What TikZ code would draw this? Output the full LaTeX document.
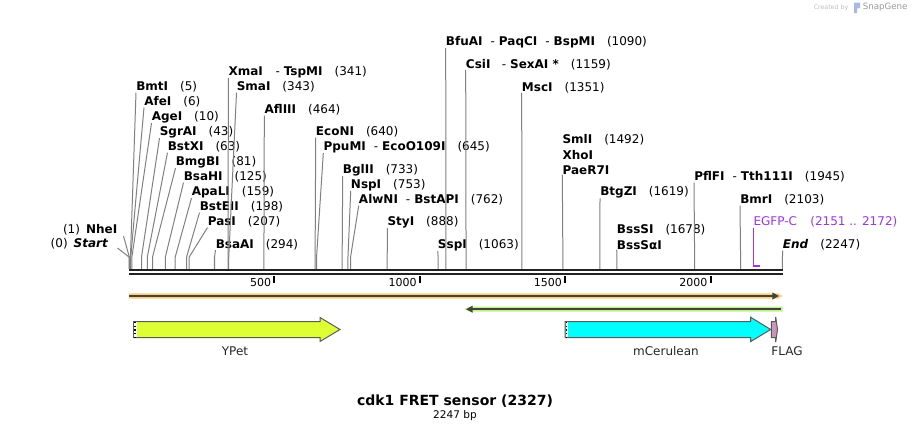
\documentclass[tikz,border=0pt]{standalone}
\usepackage{fontspec}
\setmainfont{DejaVu Sans}
\usetikzlibrary{arrows.meta}
\definecolor{cutgray}{RGB}{128,128,128}
\definecolor{bardark}{RGB}{34,34,34}
\definecolor{primerorange}{RGB}{252,204,124}
\definecolor{primergreen}{RGB}{190,242,140}
\definecolor{primerline}{RGB}{66,66,56}
\definecolor{ypetfill}{RGB}{222,255,51}
\definecolor{cerfill}{RGB}{0,255,255}
\definecolor{flagfill}{RGB}{200,150,185}
\definecolor{egfppurple}{RGB}{160,50,235}
\definecolor{featedge}{RGB}{90,90,90}
\newcommand{\bpos}[1]{\hspace{9pt}{\mdseries(#1)}}
\newcommand{\dsh}{\hspace{6pt}{\mdseries-}\hspace{3pt}}

\begin{document}
\begin{tikzpicture}[x=0.75pt,y=-0.75pt,
  enz/.style={anchor=west,inner sep=0pt,font=\fontsize{9}{11}\selectfont\bfseries},
  cut/.style={cutgray,line width=0.75pt},
  feat/.style={draw=featedge,line width=0.75pt},
  featlbl/.style={inner sep=0pt,text=black!85,font=\fontsize{9}{11}\selectfont},
  scalelbl/.style={anchor=east,inner sep=0pt,font=\fontsize{8.25}{10}\selectfont}]
\useasboundingbox (0,0) rectangle (912,432);

% restriction sites, left to right
\node[enz,anchor=east] (startlbl) at (108.5,244) {{\mdseries(0)}\hspace{4.5pt}\textit{Start}};
\node[enz,anchor=east] (nhei) at (117.5,230) {{\mdseries(1)}\hspace{4.5pt}NheI};
\node[enz] (bmti) at (136,87) {BmtI\bpos{5}};
\node[enz] (afei) at (144,102) {AfeI\bpos{6}};
\node[enz] (agei) at (151.5,117) {AgeI\bpos{10}};
\node[enz] (sgrai) at (159.5,132) {SgrAI\bpos{43}};
\node[enz] (bstxi) at (167.5,147) {BstXI\bpos{63}};
\node[enz] (bmgbi) at (175.5,162) {BmgBI\bpos{81}};
\node[enz] (bsahi) at (183.5,177) {BsaHI\bpos{125}};
\node[enz] (apali) at (191.5,192) {ApaLI\bpos{159}};
\node[enz] (bsteii) at (199.5,207) {BstEII\bpos{198}};
\node[enz] (pasi) at (207.5,222) {PasI\bpos{207}};
\node[enz] (bsaai) at (215.5,244.5) {BsaAI\bpos{294}};
\node[enz] (xmai) at (228.3,72) {XmaI\hspace{3.5pt}\dsh TspMI\bpos{341}};
\node[enz] (smai) at (236.5,87) {SmaI\bpos{343}};
\node[enz] (afliii) at (264.3,110) {AflIII\bpos{464}};
\node[enz] (econi) at (315.7,132) {EcoNI\bpos{640}};
\node[enz] (ppumi) at (323.3,147) {PpuMI\dsh EcoO109I\bpos{645}};
\node[enz] (bglii) at (342.7,170) {BglII\bpos{733}};
\node[enz] (nspi) at (350.7,185) {NspI\bpos{753}};
\node[enz] (alwni) at (358.7,200) {AlwNI\dsh BstAPI\bpos{762}};
\node[enz] (styi) at (387.3,222) {StyI\bpos{888}};
\node[enz] (sspi) at (437.7,245) {SspI\bpos{1063}};
\node[enz] (bfuai) at (445.7,42) {BfuAI\dsh PaqCI\dsh BspMI\bpos{1090}};
\node[enz] (csii) at (465.7,64.5) {CsiI\hspace{2.5pt}\dsh SexAI *\bpos{1159}};
\node[enz] (msci) at (521.7,87.3) {MscI\bpos{1351}};
\node[enz] (smli) at (562.3,140) {SmlI\bpos{1492}};
\node[enz] (xhoi) at (562.3,155) {XhoI};
\node[enz] (paer7i) at (562.3,170) {PaeR7I};
\node[enz] (btgzi) at (600,192.3) {BtgZI\bpos{1619}};
\node[enz] (bsssi) at (616.7,230) {BssSI\bpos{1678}};
\node[enz] (bsssai) at (616.7,245) {BssSαI};
\node[enz] (pflfi) at (694,177) {PflFI\dsh Tth111I\bpos{1945}};
\node[enz] (bmri) at (740,200) {BmrI\bpos{2103}};
\node[enz] (endlbl) at (782.7,245) {\textit{End}\bpos{2247}};
\node[enz,text=egfppurple] (egfp) at (753.3,222) {\mdseries EGFP-C\hspace{10pt}(2151 .. 2172)};

% cut lines
\coordinate (start-b) at (129,257);
\coordinate (nhei-b) at (129.3,257);
\draw[cut] ([shift={(9,4)}]startlbl.east) -- (start-b) -- ++(0,12);
\draw[cut] ([shift={(6,6)}]nhei.east) -- (nhei-b) -- ++(0,12);
\foreach \n/\p in {bmti/5,afei/6,agei/10,sgrai/43,bstxi/63,bmgbi/81,bsahi/125,
    apali/159,bsteii/198,pasi/207,bsaai/294,xmai/341,smai/343,afliii/464,
    econi/640,ppumi/645,bglii/733,nspi/753,alwni/762,styi/888,sspi/1063,
    bfuai/1090,csii/1159,msci/1351,paer7i/1492,btgzi/1619,bsssai/1678,
    pflfi/1945,bmri/2103,endlbl/2247}{
  \coordinate (\n-b) at ({129+0.2908*\p},257);
  \draw[cut] (\n.south west) -- (\n-b) -- ++(0,12);
}
\coordinate (egfp-b) at (753.3,265.5);
\draw[egfppurple,line width=0.9pt] (egfp.south west) -- (egfp-b);
\fill[egfppurple] (752.8,264.6) rectangle (759.5,266.6);

% sequence bar
\draw[bardark,line width=1.7pt] (129,270) -- (782.5,270);
\draw[bardark,line width=1.7pt] (129,274) -- (782.5,274);
\foreach \v in {500,1000,1500,2000}{
  \coordinate (tk\v) at ({129+0.2908*\v},276);
  \draw[black,line width=1.5pt] (tk\v) -- ++(0,7);
  \node[scalelbl] (lbl\v) at ([shift={(-3,6)}]tk\v) {\v};
}

% primers
\fill[primerorange] (129,293.3) -- (778,293.3) -- (782.5,296) -- (778,298.7) -- (129,298.7) -- cycle;
\draw[primerline,line width=1.2pt,-{Triangle[length=5pt,width=5pt]}] (129,296) -- (779,296);
\fill[primergreen] (782.7,306.7) -- (470,306.7) -- (464,309.2) -- (470,311.7) -- (782.7,311.7) -- cycle;
\draw[primerline,line width=1.2pt,-{Triangle[length=5pt,width=5pt]}] (780.7,309.2) -- (466,309.2);

% features
\draw[feat,fill=ypetfill] (133.5,321.5) -- (320,321.5) -- (320,317.5) -- (340,329.5) -- (320,341.5) -- (320,337.5) -- (133.5,337.5) -- cycle;
\fill[white] (134,322) rectangle (136.5,337);
\draw[black,dotted,line width=0.8pt] (135,322) -- (135,337);
\draw[feat,fill=cerfill] (565,321.5) -- (750.7,321.5) -- (750.7,317.3) -- (770.7,329.5) -- (750.7,341.5) -- (750.7,337.5) -- (565,337.5) -- cycle;
\fill[white] (565.5,322) rectangle (568,337);
\draw[black,dotted,line width=0.8pt] (566.5,322) -- (566.5,337);
\draw[feat,fill=flagfill] (771.3,321.5) -- (775.7,321.5) -- (775.7,317) -- (777.5,329.5) -- (775.7,342) -- (775.7,337.5) -- (771.3,337.5) -- cycle;
\node[featlbl] (ypet) at (235,351) {YPet};
\node[featlbl] (mcer) at (666,351) {mCerulean};
\node[featlbl] (flag) at (787,351) {FLAG};

% title
\node[inner sep=0pt,font=\fontsize{10.5}{12}\selectfont\bfseries] (title) at (455,401) {cdk1 FRET sensor (2327)};
\node[inner sep=0pt,font=\fontsize{7.9}{9}\selectfont] (size) at (455,416) {2247 bp};

% credit
\node[anchor=east,inner sep=0pt,text=black!25,font=\fontsize{4.7}{6}\selectfont] (credit) at (848.5,7.5) {Created by};
\fill[cyan!45!blue!35] (854,2.5) -- (860,2.5) -- (860,8) -- (857,8.5) -- (857,13) -- (854,13) -- cycle;
\node[anchor=west,inner sep=0pt,text=black!40,font=\fontsize{6.5}{8}\selectfont] (snapgene) at (862.5,7.5) {SnapGene};
\end{tikzpicture}
\end{document}
